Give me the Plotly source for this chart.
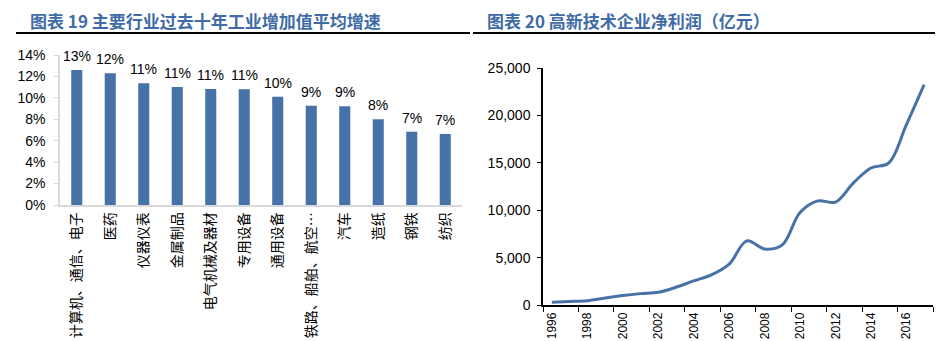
import plotly.graph_objects as go

# 主要行业过去十年工业增加值平均增速
industries = [
    "计算机、通信、电子", "医药", "仪器仪表", "金属制品", "电气机械及器材",
    "专用设备", "通用设备", "铁路、船舶、航空…", "汽车", "造纸", "钢铁", "纺织",
]
growth = [0.126, 0.123, 0.1136, 0.1102, 0.1083, 0.108, 0.1011, 0.0927, 0.0921, 0.080, 0.0684, 0.0663]

# 高新技术企业净利润（亿元）
years = list(range(1996, 2018))
profit = [300, 380, 450, 730, 1000, 1200, 1340, 1870, 2540, 3170, 4300, 6760,
          5910, 6340, 9750, 10980, 10850, 12860, 14450, 14980, 19030, 23250]

title_left = "图表 19 主要行业过去十年工业增加值平均增速"
title_right = "图表 20 高新技术企业净利润（亿元）"

W, H = 943, 341
BLUE = "#4672A8"
TITLE_BLUE = "#3F6CA6"
NUM_FONT = "Liberation Sans, Arial, sans-serif"
CJK_FONT = "Noto Sans CJK SC, sans-serif"


def px_x(x):
    return x / W


def px_y(y):
    return 1 - y / H


fig = go.Figure()

fig.add_trace(go.Bar(
    x=industries, y=growth,
    marker=dict(color=BLUE, line=dict(width=0)),
    xaxis="x", yaxis="y",
    showlegend=False,
))

# value labels above the bars
bar_labels = [
    dict(x=cat, y=val, xref="x", yref="y", text=f"{val:.0%}",
         xanchor="center", yanchor="bottom", yshift=4, showarrow=False,
         font=dict(family=NUM_FONT, size=14, color="#000000"))
    for cat, val in zip(industries, growth)
]

fig.add_trace(go.Scatter(
    x=years, y=profit,
    mode="lines",
    line=dict(color=BLUE, width=3, shape="spline", smoothing=1.0),
    xaxis="x2", yaxis="y2",
    showlegend=False,
))

# x ticks sit on category boundaries, labels every second year in the middle
label_years = years[::2]
tick_pos = [y - 0.5 for y in label_years] + [years[-1] + 0.5]
tick_text = [str(y) for y in label_years] + [""]
plot2_left, plot2_right = 543, 933
half_cat_px = round((plot2_right - plot2_left) / len(years) / 2)

titles = [
    dict(text=f"<b>{title_left}</b>", x=px_x(28), y=px_y(21),
         xref="paper", yref="paper", xanchor="left", yanchor="middle",
         showarrow=False, font=dict(family=CJK_FONT, size=17, color=TITLE_BLUE)),
    dict(text=f"<b>{title_right}</b>", x=px_x(485), y=px_y(21),
         xref="paper", yref="paper", xanchor="left", yanchor="middle",
         showarrow=False, font=dict(family=CJK_FONT, size=17, color=TITLE_BLUE)),
]

fig.update_layout(
    width=W, height=H,
    margin=dict(l=0, r=0, t=0, b=0, autoexpand=False),
    paper_bgcolor="white", plot_bgcolor="white",
    bargap=0.67,
    xaxis=dict(
        domain=[px_x(60), px_x(462)],
        anchor="y", automargin=False,
        showline=True, linecolor="#D9D9D9", linewidth=1.5,
        ticks="", tickangle=-90,
        tickfont=dict(family=CJK_FONT, size=14, color="#000000"),
        showgrid=False, zeroline=False,
    ),
    yaxis=dict(
        domain=[px_y(205), px_y(55)],
        anchor="x", automargin=False,
        range=[0, 0.14], dtick=0.02, tickformat=".0%",
        showline=True, linecolor="#D9D9D9", linewidth=1.5,
        ticks="outside", ticklen=4, tickcolor="#D9D9D9",
        ticklabelstandoff=6,
        tickfont=dict(family=NUM_FONT, size=14, color="#000000"),
        showgrid=False, zeroline=False,
    ),
    xaxis2=dict(
        domain=[px_x(plot2_left), px_x(plot2_right)],
        anchor="y2", automargin=False,
        range=[years[0] - 0.5, years[-1] + 0.5],
        tickmode="array", tickvals=tick_pos, ticktext=tick_text,
        ticklabelshift=half_cat_px,
        ticklabelstandoff=-4,
        tickangle=-90,
        showline=True, linecolor="#000000", linewidth=1.5,
        ticks="outside", ticklen=5, tickcolor="#000000", tickwidth=1,
        tickfont=dict(family=NUM_FONT, size=12, color="#000000"),
        showgrid=False, zeroline=False,
    ),
    yaxis2=dict(
        domain=[px_y(305), px_y(68)],
        anchor="x2", automargin=False,
        range=[0, 25000], dtick=5000, tickformat=",",
        showline=True, linecolor="#000000", linewidth=1.5,
        ticks="outside", ticklen=4, tickcolor="#000000", tickwidth=1,
        ticklabelstandoff=4,
        tickfont=dict(family=NUM_FONT, size=14, color="#000000"),
        showgrid=False, zeroline=False,
    ),
    annotations=titles + bar_labels,
    shapes=[
        dict(type="line", xref="paper", yref="paper",
             x0=px_x(16), x1=px_x(470), y0=px_y(33), y1=px_y(33),
             line=dict(color="#000000", width=2)),
        dict(type="line", xref="paper", yref="paper",
             x0=px_x(473), x1=px_x(935), y0=px_y(33), y1=px_y(33),
             line=dict(color="#000000", width=2)),
    ],
)

fig.write_html("out.html")
